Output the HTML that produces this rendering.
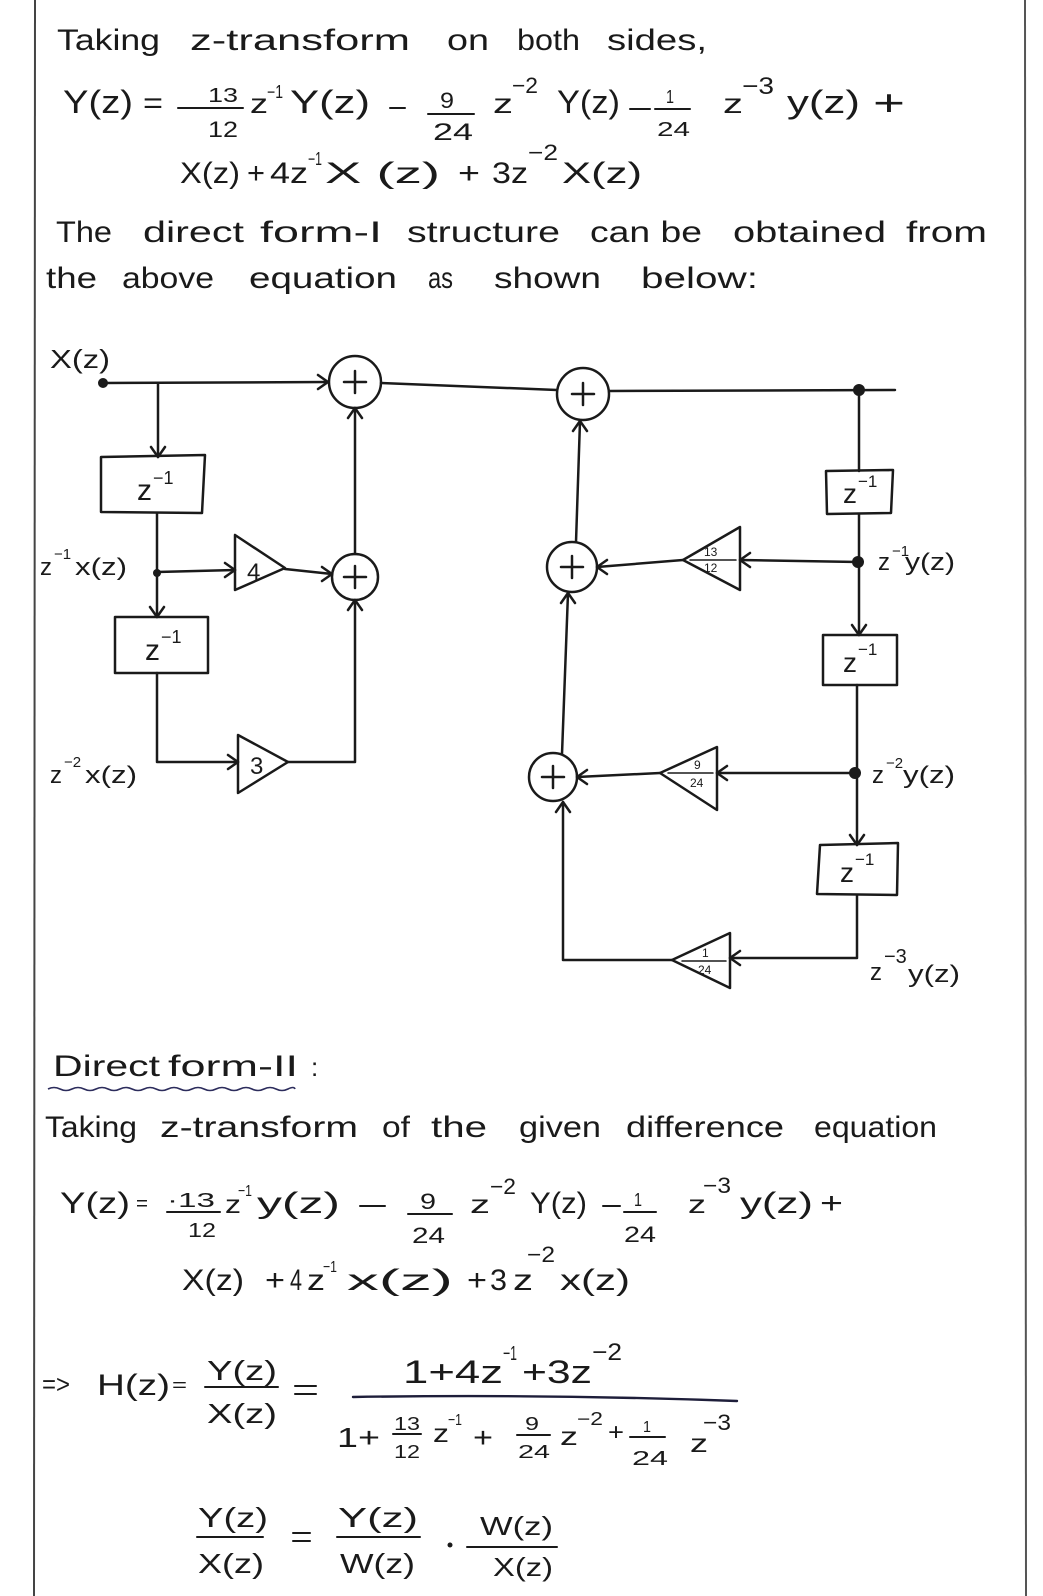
<!DOCTYPE html>
<html><head><meta charset="utf-8">
<style>
html,body{margin:0;padding:0;background:#fff;}
svg{display:block;}
text{font-family:"Liberation Sans",sans-serif;fill:#1a1a1a;}
</style></head><body>
<svg width="1043" height="1596" viewBox="0 0 1043 1596" xmlns="http://www.w3.org/2000/svg">
<rect width="1043" height="1596" fill="#fff"/>
<line x1="35" y1="0" x2="34" y2="1596" stroke="#444" stroke-width="2"/>
<line x1="1025" y1="0" x2="1026" y2="1596" stroke="#555" stroke-width="2"/>

<!-- ===== TOP TEXT ===== -->
<g font-size="30">
<text x="57" y="50" textLength="103" lengthAdjust="spacingAndGlyphs">Taking</text>
<text x="190" y="50" textLength="220" lengthAdjust="spacingAndGlyphs">z-transform</text>
<text x="447" y="50" textLength="42" lengthAdjust="spacingAndGlyphs">on</text>
<text x="517" y="50" textLength="63" lengthAdjust="spacingAndGlyphs">both</text>
<text x="607" y="50" textLength="100" lengthAdjust="spacingAndGlyphs">sides,</text>
</g>

<!-- line 1 -->
<g stroke="#1a1a1a" stroke-width="2" fill="none" stroke-linecap="round">
<line x1="178" y1="108" x2="243" y2="108"/>
<line x1="390" y1="108" x2="405" y2="108"/>
<line x1="428" y1="114" x2="474" y2="114"/>
<line x1="630" y1="109" x2="650" y2="109"/>
<line x1="655" y1="109" x2="690" y2="109"/>
</g>
<text x="63" y="113" font-size="32" textLength="70" lengthAdjust="spacingAndGlyphs">Y(z)</text>
<text x="143" y="113" font-size="30" textLength="20" lengthAdjust="spacingAndGlyphs">=</text>
<text x="208" y="102" font-size="20" textLength="30" lengthAdjust="spacingAndGlyphs">13</text>
<text x="208" y="137" font-size="22" textLength="30" lengthAdjust="spacingAndGlyphs">12</text>
<text x="250" y="113" font-size="28" textLength="18" lengthAdjust="spacingAndGlyphs">z</text>
<text x="267" y="98" font-size="18" textLength="16" lengthAdjust="spacingAndGlyphs">−1</text>
<text x="290" y="113" font-size="32" textLength="80" lengthAdjust="spacingAndGlyphs">Y(z)</text>
<text x="440" y="108" font-size="22" textLength="14" lengthAdjust="spacingAndGlyphs">9</text>
<text x="433" y="140" font-size="24" textLength="40" lengthAdjust="spacingAndGlyphs">24</text>
<text x="493" y="113" font-size="28" textLength="20" lengthAdjust="spacingAndGlyphs">z</text>
<text x="512" y="93" font-size="22" textLength="26" lengthAdjust="spacingAndGlyphs">−2</text>
<text x="557" y="113" font-size="32" textLength="63" lengthAdjust="spacingAndGlyphs">Y(z)</text>
<text x="666" y="103" font-size="18" textLength="8" lengthAdjust="spacingAndGlyphs">1</text>
<text x="657" y="136" font-size="20" textLength="33" lengthAdjust="spacingAndGlyphs">24</text>
<text x="723" y="113" font-size="28" textLength="20" lengthAdjust="spacingAndGlyphs">z</text>
<text x="742" y="94" font-size="24" textLength="32" lengthAdjust="spacingAndGlyphs">−3</text>
<text x="787" y="113" font-size="32" textLength="73" lengthAdjust="spacingAndGlyphs">y(z)</text>
<text x="873" y="115" font-size="36" textLength="32" lengthAdjust="spacingAndGlyphs">+</text>

<!-- line 2 -->
<g font-size="30">
<text x="180" y="183" textLength="60" lengthAdjust="spacingAndGlyphs">X(z)</text>
<text x="247" y="183" textLength="18" lengthAdjust="spacingAndGlyphs">+</text>
<text x="270" y="183" textLength="38" lengthAdjust="spacingAndGlyphs">4z</text>
<text x="325" y="183" textLength="115" lengthAdjust="spacingAndGlyphs">X (z)</text>
<text x="458" y="183" textLength="22" lengthAdjust="spacingAndGlyphs">+</text>
<text x="492" y="183" textLength="36" lengthAdjust="spacingAndGlyphs">3z</text>
<text x="562" y="183" textLength="80" lengthAdjust="spacingAndGlyphs">X(z)</text>
</g>
<text x="308" y="165" font-size="18" textLength="14" lengthAdjust="spacingAndGlyphs">−1</text>
<text x="528" y="160" font-size="22" textLength="30" lengthAdjust="spacingAndGlyphs">−2</text>

<!-- line 3 -->
<g font-size="30">
<text x="56" y="242" textLength="56" lengthAdjust="spacingAndGlyphs">The</text>
<text x="143" y="242" textLength="101" lengthAdjust="spacingAndGlyphs">direct</text>
<text x="260" y="242" textLength="122" lengthAdjust="spacingAndGlyphs">form-I</text>
<text x="407" y="242" textLength="153" lengthAdjust="spacingAndGlyphs">structure</text>
<text x="590" y="242" textLength="112" lengthAdjust="spacingAndGlyphs">can be</text>
<text x="733" y="242" textLength="153" lengthAdjust="spacingAndGlyphs">obtained</text>
<text x="906" y="242" textLength="81" lengthAdjust="spacingAndGlyphs">from</text>
</g>
<!-- line 4 -->
<g font-size="30">
<text x="46" y="288" textLength="51" lengthAdjust="spacingAndGlyphs">the</text>
<text x="122" y="288" textLength="92" lengthAdjust="spacingAndGlyphs">above</text>
<text x="249" y="288" textLength="148" lengthAdjust="spacingAndGlyphs">equation</text>
<text x="428" y="288" textLength="25" lengthAdjust="spacingAndGlyphs">as</text>
<text x="494" y="288" textLength="107" lengthAdjust="spacingAndGlyphs">shown</text>
<text x="641" y="288" textLength="117" lengthAdjust="spacingAndGlyphs">below:</text>
</g>

<!-- ===== DIAGRAM ===== -->
<g stroke="#1a1a1a" stroke-width="2.5" fill="none" stroke-linecap="round" stroke-linejoin="round">
<!-- left part -->
<path d="M103 383 L328 382"/>
<path d="M318 375 L328 382 L318 389"/>
<circle cx="355" cy="382" r="26"/>
<path d="M355 371 V393 M344 382 H366"/>
<path d="M381 383 L557 390"/>
<path d="M158 383 V457"/>
<path d="M151 447 L158 457 L165 447"/>
<path d="M101 457 L205 455 L202 513 L101 512 Z"/>
<path d="M157 513 V617"/>
<path d="M150 607 L157 617 L164 607"/>
<path d="M115 617 H208 V673 H115 Z"/>
<path d="M157 673 V762 H238"/>
<path d="M228 755 L238 762 L228 769"/>
<path d="M238 735 L238 793 L288 762 Z"/>
<path d="M288 762 H355 V600"/>
<path d="M348 610 L355 600 L362 610"/>
<path d="M157 572 L235 570"/>
<path d="M225 563 L235 570 L225 577"/>
<path d="M235 535 L235 590 L285 568 Z"/>
<path d="M285 569 L332 574"/>
<path d="M322 567 L332 574 L322 581"/>
<circle cx="355" cy="577" r="23"/>
<path d="M355 566 V588 M344 577 H366"/>
<path d="M355 554 V408"/>
<path d="M348 418 L355 408 L362 418"/>

<!-- right part -->
<circle cx="583" cy="394" r="26"/>
<path d="M583 383 V405 M572 394 H594"/>
<path d="M609 391 L895 390"/>
<path d="M859 390 V471"/>
<path d="M826 471 L893 470 L891 513 L827 514 Z"/>
<path d="M859 514 V635"/>
<path d="M852 625 L859 635 L866 625"/>
<path d="M858 562 L740 560"/>
<path d="M750 553 L740 560 L750 567"/>
<path d="M740 527 L740 590 L683 560 Z"/>
<path d="M683 560 L597 567"/>
<path d="M607 560 L597 567 L607 574"/>
<circle cx="572" cy="567" r="25"/>
<path d="M572 556 V578 M561 567 H583"/>
<path d="M576 542 L580 421"/>
<path d="M573 431 L580 421 L587 431"/>
<path d="M823 635 H897 V685 H823 Z"/>
<path d="M857 685 V773"/>
<path d="M855 773 H717"/>
<path d="M727 766 L717 773 L727 780"/>
<path d="M717 747 L717 810 L660 773 Z"/>
<path d="M660 773 L577 777"/>
<path d="M587 770 L577 777 L587 784"/>
<circle cx="553" cy="777" r="24"/>
<path d="M553 766 V788 M542 777 H564"/>
<path d="M562 754 L568 593"/>
<path d="M561 603 L568 593 L575 603"/>
<path d="M857 773 V845"/>
<path d="M850 835 L857 845 L864 835"/>
<path d="M820 845 L898 843 L897 895 L817 894 Z"/>
<path d="M857 895 V958 H730"/>
<path d="M740 951 L730 958 L740 965"/>
<path d="M730 933 L730 988 L672 960 Z"/>
<path d="M672 960 H563 V802"/>
<path d="M556 812 L563 802 L570 812"/>
<!-- small fraction bars inside triangles -->
<path d="M690 560 H736" stroke-width="1.5"/>
<path d="M668 773 H713" stroke-width="1.5"/>
<path d="M682 961 H726" stroke-width="1.5"/>
</g>
<g fill="#1a1a1a">
<circle cx="103" cy="383" r="5"/>
<circle cx="157" cy="573" r="4"/>
<circle cx="859" cy="390" r="6"/>
<circle cx="858" cy="562" r="6"/>
<circle cx="855" cy="773" r="6"/>
</g>

<!-- triangle labels -->
<text x="247" y="580" font-size="24">4</text>
<text x="250" y="774" font-size="24">3</text>
<text x="704" y="556" font-size="12">13</text>
<text x="704" y="572" font-size="12">12</text>
<text x="694" y="769" font-size="12">9</text>
<text x="690" y="787" font-size="12">24</text>
<text x="702" y="957" font-size="12">1</text>
<text x="698" y="974" font-size="12">24</text>

<!-- box labels -->
<text x="137" y="500" font-size="30">z</text><text x="153" y="484" font-size="18">−1</text>
<text x="145" y="660" font-size="30">z</text><text x="161" y="643" font-size="18">−1</text>
<text x="843" y="503" font-size="28">z</text><text x="858" y="487" font-size="17">−1</text>
<text x="843" y="672" font-size="28">z</text><text x="858" y="655" font-size="17">−1</text>
<text x="840" y="882" font-size="28">z</text><text x="855" y="865" font-size="17">−1</text>

<!-- signal labels -->
<text x="50" y="368" font-size="26" textLength="60" lengthAdjust="spacingAndGlyphs">X(z)</text>
<text x="40" y="575" font-size="24">z</text><text x="54" y="559" font-size="15">−1</text>
<text x="75" y="575" font-size="24" textLength="52" lengthAdjust="spacingAndGlyphs">x(z)</text>
<text x="50" y="783" font-size="24">z</text><text x="64" y="767" font-size="15">−2</text>
<text x="85" y="783" font-size="24" textLength="52" lengthAdjust="spacingAndGlyphs">x(z)</text>
<text x="878" y="570" font-size="24">z</text><text x="892" y="556" font-size="15">−1</text>
<text x="905" y="570" font-size="24" textLength="50" lengthAdjust="spacingAndGlyphs">y(z)</text>
<text x="872" y="783" font-size="24">z</text><text x="886" y="768" font-size="15">−2</text>
<text x="903" y="783" font-size="24" textLength="52" lengthAdjust="spacingAndGlyphs">y(z)</text>
<text x="870" y="980" font-size="24">z</text><text x="884" y="963" font-size="20">−3</text>
<text x="908" y="982" font-size="24" textLength="52" lengthAdjust="spacingAndGlyphs">y(z)</text>

<!-- ===== DIRECT FORM II ===== -->
<text x="53" y="1076" font-size="30" textLength="107" lengthAdjust="spacingAndGlyphs">Direct</text>
<text x="168" y="1076" font-size="30" textLength="130" lengthAdjust="spacingAndGlyphs">form-II</text>
<text x="311" y="1076" font-size="26">:</text>
<path d="M48 1089 q6 -3 12 0 t12 0 t12 0 t12 0 t12 0 t12 0 t12 0 t12 0 t12 0 t12 0 t12 0 t12 0 t12 0 t12 0 t12 0 t12 0 t12 0 t12 0 t12 0 t12 0 t7 0" stroke="#2c2c5c" stroke-width="1.6" fill="none"/>

<g font-size="30">
<text x="45" y="1137" textLength="92" lengthAdjust="spacingAndGlyphs">Taking</text>
<text x="160" y="1137" textLength="198" lengthAdjust="spacingAndGlyphs">z-transform</text>
<text x="382" y="1137" textLength="28" lengthAdjust="spacingAndGlyphs">of</text>
<text x="431" y="1137" textLength="56" lengthAdjust="spacingAndGlyphs">the</text>
<text x="519" y="1137" textLength="82" lengthAdjust="spacingAndGlyphs">given</text>
<text x="626" y="1137" textLength="158" lengthAdjust="spacingAndGlyphs">difference</text>
<text x="814" y="1137" textLength="123" lengthAdjust="spacingAndGlyphs">equation</text>
</g>

<!-- Y(z) line (lower) -->
<g stroke="#1a1a1a" stroke-width="2" fill="none" stroke-linecap="round">
<line x1="167" y1="1212" x2="220" y2="1212"/>
<line x1="360" y1="1206" x2="385" y2="1206"/>
<line x1="408" y1="1214" x2="452" y2="1214"/>
<line x1="603" y1="1206" x2="620" y2="1206"/>
<line x1="624" y1="1212" x2="656" y2="1212"/>
</g>
<text x="60" y="1213" font-size="30" textLength="70" lengthAdjust="spacingAndGlyphs">Y(z)</text>
<text x="136" y="1210" font-size="20" textLength="12" lengthAdjust="spacingAndGlyphs">=</text>
<text x="167" y="1207" font-size="20" textLength="48" lengthAdjust="spacingAndGlyphs">·13</text>
<text x="188" y="1237" font-size="20" textLength="28" lengthAdjust="spacingAndGlyphs">12</text>
<text x="225" y="1213" font-size="26" textLength="16" lengthAdjust="spacingAndGlyphs">z</text>
<text x="238" y="1196" font-size="16" textLength="14" lengthAdjust="spacingAndGlyphs">−1</text>
<text x="257" y="1213" font-size="30" textLength="83" lengthAdjust="spacingAndGlyphs">y(z)</text>
<text x="420" y="1209" font-size="22" textLength="16" lengthAdjust="spacingAndGlyphs">9</text>
<text x="412" y="1243" font-size="22" textLength="33" lengthAdjust="spacingAndGlyphs">24</text>
<text x="470" y="1213" font-size="26" textLength="20" lengthAdjust="spacingAndGlyphs">z</text>
<text x="490" y="1194" font-size="22" textLength="26" lengthAdjust="spacingAndGlyphs">−2</text>
<text x="530" y="1213" font-size="30" textLength="57" lengthAdjust="spacingAndGlyphs">Y(z)</text>
<text x="634" y="1206" font-size="18" textLength="8" lengthAdjust="spacingAndGlyphs">1</text>
<text x="624" y="1242" font-size="22" textLength="32" lengthAdjust="spacingAndGlyphs">24</text>
<text x="688" y="1213" font-size="26" textLength="18" lengthAdjust="spacingAndGlyphs">z</text>
<text x="703" y="1193" font-size="22" textLength="28" lengthAdjust="spacingAndGlyphs">−3</text>
<text x="740" y="1213" font-size="30" textLength="73" lengthAdjust="spacingAndGlyphs">y(z)</text>
<text x="820" y="1213" font-size="30" textLength="23" lengthAdjust="spacingAndGlyphs">+</text>

<g font-size="30">
<text x="182" y="1290" textLength="62" lengthAdjust="spacingAndGlyphs">X(z)</text>
<text x="265" y="1290" textLength="20" lengthAdjust="spacingAndGlyphs">+</text>
<text x="290" y="1290" textLength="12" lengthAdjust="spacingAndGlyphs">4</text>
<text x="307" y="1290" textLength="18" lengthAdjust="spacingAndGlyphs">z</text>
<text x="347" y="1290" textLength="106" lengthAdjust="spacingAndGlyphs">x(z)</text>
<text x="467" y="1290" textLength="20" lengthAdjust="spacingAndGlyphs">+</text>
<text x="490" y="1290" textLength="17" lengthAdjust="spacingAndGlyphs">3</text>
<text x="513" y="1290" textLength="20" lengthAdjust="spacingAndGlyphs">z</text>
<text x="560" y="1290" textLength="70" lengthAdjust="spacingAndGlyphs">x(z)</text>
</g>
<text x="323" y="1272" font-size="16" textLength="14" lengthAdjust="spacingAndGlyphs">−1</text>
<text x="527" y="1262" font-size="22" textLength="28" lengthAdjust="spacingAndGlyphs">−2</text>

<!-- H(z) -->
<text x="42" y="1393" font-size="26" textLength="28" lengthAdjust="spacingAndGlyphs">=&gt;</text>
<text x="97" y="1395" font-size="30" textLength="73" lengthAdjust="spacingAndGlyphs">H(z)</text>
<text x="172" y="1391" font-size="18" textLength="15" lengthAdjust="spacingAndGlyphs">=</text>
<text x="207" y="1380" font-size="28" textLength="70" lengthAdjust="spacingAndGlyphs">Y(z)</text>
<text x="207" y="1423" font-size="28" textLength="70" lengthAdjust="spacingAndGlyphs">X(z)</text>
<g stroke="#1a1a1a" stroke-width="2" fill="none" stroke-linecap="round">
<line x1="205" y1="1387" x2="278" y2="1387"/>
<line x1="295" y1="1386" x2="316" y2="1386"/>
<line x1="295" y1="1394" x2="316" y2="1394"/>
<path d="M353 1397 Q545 1394 737 1401" stroke="#1e1e3a" stroke-width="2.4"/>
<line x1="393" y1="1434" x2="421" y2="1434"/>
<line x1="517" y1="1435" x2="550" y2="1435"/>
<line x1="630" y1="1437" x2="665" y2="1437"/>
<line x1="197" y1="1537" x2="263" y2="1537"/>
<line x1="293" y1="1533" x2="310" y2="1533"/>
<line x1="293" y1="1541" x2="310" y2="1541"/>
<line x1="337" y1="1537" x2="420" y2="1537"/>
<line x1="467" y1="1547" x2="557" y2="1547"/>
</g>
<text x="403" y="1383" font-size="32" textLength="100" lengthAdjust="spacingAndGlyphs">1+4z</text>
<text x="503" y="1360" font-size="20" textLength="14" lengthAdjust="spacingAndGlyphs">−1</text>
<text x="522" y="1383" font-size="32" textLength="70" lengthAdjust="spacingAndGlyphs">+3z</text>
<text x="592" y="1360" font-size="24" textLength="30" lengthAdjust="spacingAndGlyphs">−2</text>

<text x="337" y="1447" font-size="28" textLength="43" lengthAdjust="spacingAndGlyphs">1+</text>
<text x="394" y="1430" font-size="18" textLength="26" lengthAdjust="spacingAndGlyphs">13</text>
<text x="394" y="1458" font-size="18" textLength="26" lengthAdjust="spacingAndGlyphs">12</text>
<text x="433" y="1442" font-size="26" textLength="16" lengthAdjust="spacingAndGlyphs">z</text>
<text x="448" y="1425" font-size="16" textLength="14" lengthAdjust="spacingAndGlyphs">−1</text>
<text x="473" y="1447" font-size="28" textLength="20" lengthAdjust="spacingAndGlyphs">+</text>
<text x="525" y="1430" font-size="18" textLength="14" lengthAdjust="spacingAndGlyphs">9</text>
<text x="518" y="1458" font-size="18" textLength="32" lengthAdjust="spacingAndGlyphs">24</text>
<text x="560" y="1445" font-size="26" textLength="18" lengthAdjust="spacingAndGlyphs">z</text>
<text x="577" y="1425" font-size="18" textLength="26" lengthAdjust="spacingAndGlyphs">−2</text>
<text x="608" y="1440" font-size="24" textLength="16" lengthAdjust="spacingAndGlyphs">+</text>
<text x="643" y="1432" font-size="16" textLength="8" lengthAdjust="spacingAndGlyphs">1</text>
<text x="632" y="1465" font-size="20" textLength="36" lengthAdjust="spacingAndGlyphs">24</text>
<text x="690" y="1452" font-size="26" textLength="18" lengthAdjust="spacingAndGlyphs">z</text>
<text x="703" y="1430" font-size="22" textLength="28" lengthAdjust="spacingAndGlyphs">−3</text>

<!-- last line -->
<text x="198" y="1527" font-size="28" textLength="70" lengthAdjust="spacingAndGlyphs">Y(z)</text>
<text x="198" y="1573" font-size="28" textLength="66" lengthAdjust="spacingAndGlyphs">X(z)</text>
<text x="338" y="1527" font-size="28" textLength="80" lengthAdjust="spacingAndGlyphs">Y(z)</text>
<text x="340" y="1573" font-size="28" textLength="75" lengthAdjust="spacingAndGlyphs">W(z)</text>
<circle cx="450" cy="1545" r="2.5" fill="#1a1a1a"/>
<text x="480" y="1535" font-size="26" textLength="73" lengthAdjust="spacingAndGlyphs">W(z)</text>
<text x="493" y="1576" font-size="26" textLength="60" lengthAdjust="spacingAndGlyphs">X(z)</text>
</svg>
</body></html>
